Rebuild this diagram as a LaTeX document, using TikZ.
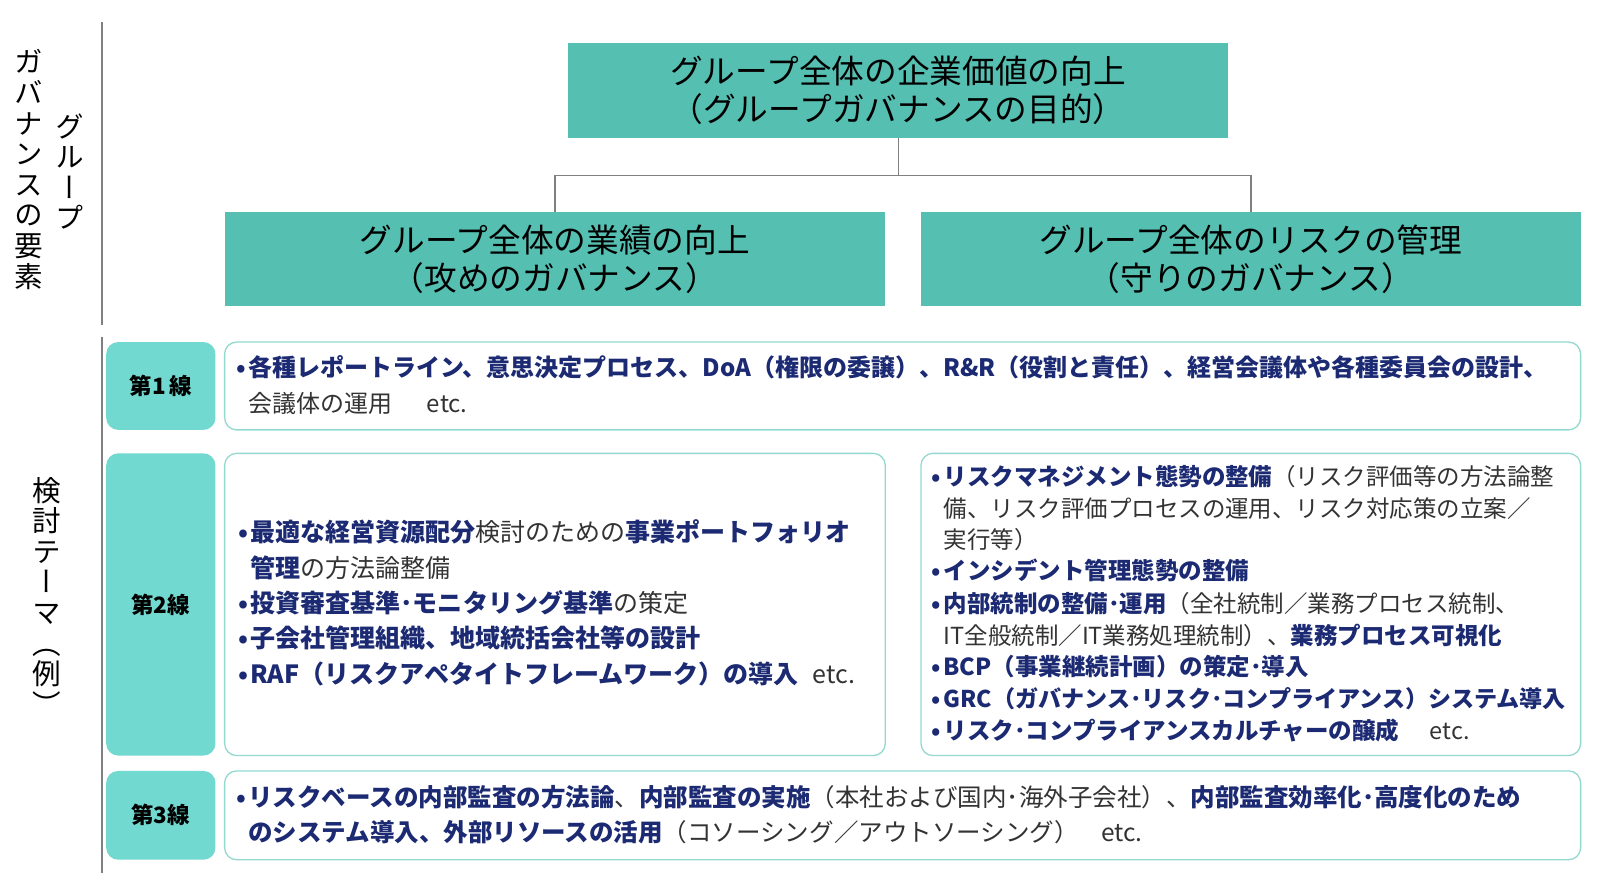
\documentclass[tikz,border=0pt]{standalone}
\usepackage{fontspec}
\setmainfont{Noto Sans CJK JP}
\newfontfamily\vjp[RawFeature=+vert]{Noto Sans CJK JP}
\definecolor{topteal}{HTML}{55BFB1}
\definecolor{labteal}{HTML}{72D9D1}
\definecolor{bordteal}{HTML}{93D9D0}
\definecolor{linegray}{HTML}{808080}
\definecolor{navy}{HTML}{1B2A72}
\definecolor{txt}{HTML}{333333}
\newcommand\hb[1]{{\bfseries\color{navy}#1}}
\newcommand\bl{\makebox[14pt][l]{\hspace{2pt}\hb{•}}}
\newcommand\ind{\hspace*{14pt}}
\newcommand\md{･}
\tikzset{
  govbox/.style={rectangle, fill=topteal, draw=none, inner sep=0, align=center,
    text=black, font=\fontsize{32}{37}\selectfont},
  labbox/.style={rectangle, rounded corners=12pt, fill=labteal, draw=none, inner sep=0,
    minimum width=107pt, text=black, font=\bfseries\fontsize{22}{26}\selectfont},
  conbox/.style={rectangle, rounded corners=12pt, fill=white, draw=bordteal, line width=1.3pt, inner sep=0},
  tl/.style={anchor=west, inner sep=0, text=txt, font=\fontsize{23}{28}\selectfont},
  tlone/.style={tl, font=\fontsize{23.5}{28}\selectfont},
  tlleft/.style={tl, font=\fontsize{24.5}{30}\selectfont},
  tlthree/.style={tl, font=\fontsize{24}{29}\selectfont},
  vtext/.style={inner sep=0, align=center, text=black},
  conn/.style={draw=linegray, line width=1.3pt},
  sepline/.style={draw=linegray, line width=1.5pt}
}
\begin{document}
\begin{tikzpicture}[x=1pt,y=-1pt,scale=1.021,every node/.append style={transform shape}]
\useasboundingbox (0,0) rectangle (1567,861);
\fill[white] (0,0) rectangle (1567,861);

% left separators
\coordinate (s1a) at (100,22);
\coordinate (s1b) at (100,318);
\coordinate (s2a) at (100,330);
\coordinate (s2b) at (100,855);
\draw[sepline] (s1a) -- (s1b);
\draw[sepline] (s2a) -- (s2b);

% vertical labels
\node[vtext, font=\vjp\fontsize{28}{30}\selectfont] (vg1) at (68,168) {グ\\ル\\ー\\プ};
\node[vtext, font=\vjp\fontsize{28}{30}\selectfont] (vg2) at (28,166) {ガ\\バ\\ナ\\ン\\ス\\の\\要\\素};
\node[vtext, font=\vjp\fontsize{28}{30}\selectfont] (vk) at (46,584) {検\\討\\テ\\ー\\マ\\（\\例\\）};

% governance boxes
\node[govbox, minimum width=647pt, minimum height=93pt] (top) at (879.5,88.5)
  {グループ全体の企業価値の向上\\（グループガバナンスの目的）};
\node[govbox, minimum width=647pt, minimum height=92pt] (gl) at (543.5,254)
  {グループ全体の業績の向上\\（攻めのガバナンス）};
\node[govbox, minimum width=646pt, minimum height=92pt] (gr) at (1225,254)
  {グループ全体のリスクの管理\\（守りのガバナンス）};
\coordinate (j) at (879.5,172);
\draw[conn] (top.south) -- (j);
\draw[conn] (j) -| (gl.north);
\draw[conn] (j) -| (gr.north);

% line labels
\node[labbox, minimum height=86pt] (lab1) at (157.5,378) {第1\,線};
\node[labbox, minimum height=296pt] (lab2) at (157.5,592) {第2線};
\node[labbox, minimum height=87pt] (lab3) at (157.5,798.5) {第3線};

% content boxes
\node[conbox, minimum width=1328pt, minimum height=86pt] (c1) at (884,378) {};
\node[conbox, minimum width=647pt, minimum height=296pt] (c2l) at (543.5,592) {};
\node[conbox, minimum width=646pt, minimum height=296pt] (c2r) at (1225,592) {};
\node[conbox, minimum width=1328pt, minimum height=87pt] (c3) at (884,798.5) {};

% row 1 text
\node[tlone] (t1a) at (229,360) {\bl\hb{各種レポートライン、意思決定プロセス、DoA（権限の委譲）、R\&R（役割と責任）、経営会議体や各種委員会の設計、}};
\node[tlone] (t1b) at (229,395) {\ind 会議体の運用\hspace{34pt}etc.};

% row 2 left
\node[tlleft] (t2a) at (231,521) {\bl\hb{最適な経営資源配分}検討のための\hb{事業ポートフォリオ}};
\node[tlleft] (t2b) at (231,556) {\ind\hb{管理}の方法論整備};
\node[tlleft] (t2c) at (231,590) {\bl\hb{投資審査基準\md モニタリング基準}の策定};
\node[tlleft] (t2d) at (231,625) {\bl\hb{子会社管理組織、地域統括会社等の設計}};
\node[tlleft] (t2e) at (231,660) {\bl\hb{RAF（リスクアペタイトフレームワーク）の導入}\hspace{14pt}etc.};

% row 2 right
\node[tl] (t3a) at (910,467) {\bl\hb{リスクマネジメント態勢の整備}（リスク評価等の方法論整};
\node[tl] (t3b) at (910,498) {\ind 備、リスク評価プロセスの運用、リスク対応策の立案／};
\node[tl] (t3c) at (910,528) {\ind 実行等）};
\node[tl] (t3d) at (910,559) {\bl\hb{インシデント管理態勢の整備}};
\node[tl] (t3e) at (910,591) {\bl\hb{内部統制の整備\md 運用}（全社統制／業務プロセス統制、};
\node[tl] (t3f) at (910,622) {\ind IT全般統制／IT業務処理統制）、\hb{業務プロセス可視化}};
\node[tl] (t3g) at (910,653) {\bl\hb{BCP（事業継続計画）の策定\md 導入}};
\node[tl, font=\fontsize{22.6}{28}\selectfont] (t3h) at (910,684) {\bl\hb{GRC（ガバナンス\md リスク\md コンプライアンス）システム導入}};
\node[tl] (t3i) at (910,715) {\bl\hb{リスク\md コンプライアンスカルチャーの醸成}\hspace{30pt}etc.};

% row 3
\node[tlthree] (t4a) at (229,781) {\bl\hb{リスクベースの内部監査の方法論}、\hb{内部監査の実施}（本社および国内\md 海外子会社）、\hb{内部監査効率化\md 高度化のため}};
\node[tlthree] (t4b) at (229,815) {\ind\hb{のシステム導入、外部リソースの活用}（コソーシング／アウトソーシング）\hspace{22pt}etc.};
\end{tikzpicture}
\end{document}
